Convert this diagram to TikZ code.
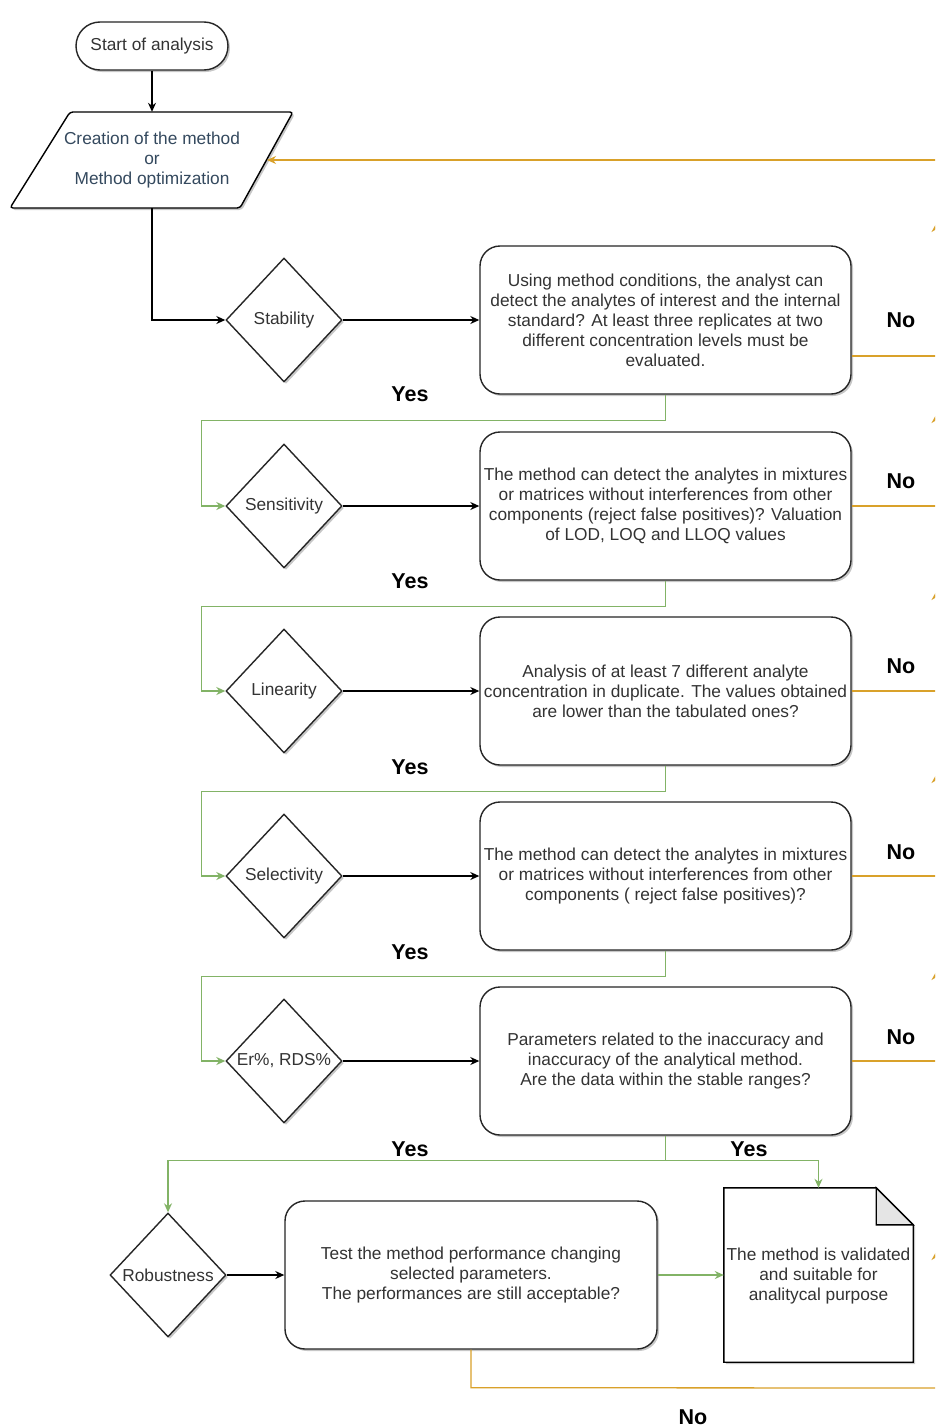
\documentclass[tikz,border=0pt]{standalone}
\usepackage{fontspec}
\setmainfont{Liberation Sans}
\usetikzlibrary{shapes.geometric,arrows.meta,calc,shadows,decorations.markings}
\definecolor{ora}{HTML}{D9A12A}
\definecolor{grn}{HTML}{82B366}
\definecolor{txt}{HTML}{333333}
\definecolor{btxt}{HTML}{34495E}
\begin{document}
\begin{tikzpicture}[x=1pt,y=-1pt,
  shad/.style={drop shadow={shadow xshift=2pt,shadow yshift=-2pt,opacity=0.22,fill=black}},
  fnt/.style={font=\fontsize{17.3}{20}\selectfont},
  base/.style={draw=black!85, line width=1.4pt, fill=white, text=txt, fnt, align=center, shad},
  proc/.style={base, rectangle, rounded corners=20pt, minimum width=371pt, minimum height=148pt, inner sep=1pt},
  dec/.style={base, diamond, minimum width=116pt, minimum height=124pt, inner sep=0pt},
  lab/.style={font=\fontsize{21.5}{24}\selectfont\bfseries, text=black},
  tip/.style={-{Stealth[length=9pt,width=8pt]}},
  blk/.style={draw=black, line width=1.3pt, tip},
  gr/.style={draw=grn, line width=1.3pt, tip},
  orl/.style={draw=ora, line width=1.3pt},
]
\clip (0,0) rectangle (935,1427);
\fill[white] (0,0) rectangle (935,1427);

% start
\node[base, rectangle, rounded corners=24pt, minimum width=152pt, minimum height=48pt] (start) at (152,46) {Start of analysis};

% parallelogram
\node[minimum width=230pt, minimum height=96pt, inner sep=0pt] (para) at (152,160) {};
\draw[line width=1.4pt, fill=white, rounded corners=3pt, shad]
  (70,112) -- (293,112) -- (240,208) -- (10,208) -- cycle;
\node[text=btxt, fnt, align=center] (paratxt) at (152,160)
  {Creation of the method\\or\\Method optimization};
\coordinate (paraR) at (267,160);

% decisions
\node[dec] (d1) at (284,320) {Stability};
\node[dec] (d2) at (284,506) {Sensitivity};
\node[dec] (d3) at (284,691) {Linearity};
\node[dec] (d4) at (284,876) {Selectivity};
\node[dec] (d5) at (284,1061) {Er\%, RDS\%};
\node[dec] (d6) at (168,1275) {Robustness};

% process boxes
\node[proc] (b1) at (665.5,320) {Using method conditions, the analyst can\\detect the analytes of interest and the internal\\standard? At least three replicates at two\\different concentration levels must be\\evaluated.};
\node[proc] (b2) at (665.5,506) {The method can detect the analytes in mixtures\\or matrices without interferences from other\\components (reject false positives)? Valuation\\of LOD, LOQ and LLOQ values};
\node[proc] (b3) at (665.5,691) {Analysis of at least 7 different analyte\\concentration in duplicate. The values obtained\\are lower than the tabulated ones?};
\node[proc] (b4) at (665.5,876) {The method can detect the analytes in mixtures\\or matrices without interferences from other\\components ( reject false positives)?};
\node[proc] (b5) at (665.5,1061) {Parameters related to the inaccuracy and\\inaccuracy of the analytical method.\\Are the data within the stable ranges?};
\node[proc, minimum width=372pt] (b6) at (471,1275) {Test the method performance changing\\selected parameters.\\The performances are still acceptable?};

% document
\node[minimum width=189pt, minimum height=174pt, inner sep=0pt] (doc) at (818.5,1275) {};
\draw[line width=1.4pt, fill=white, shad]
  (doc.north west) -- ([xshift=-37pt]doc.north east) -- ([yshift=-37pt]doc.north east)
  -- (doc.south east) -- (doc.south west) -- cycle;
\draw[line width=1.4pt, fill=black!10]
  ([xshift=-37pt]doc.north east) -- ([xshift=-37pt,yshift=-37pt]doc.north east) -- ([yshift=-37pt]doc.north east) -- cycle;
\node[text=txt, fnt, align=center] (doctxt) at (818.5,1276)
  {The method is validated\\and suitable for\\analitycal purpose};

% black connectors
\draw[blk] (start) -- (para.north);
\draw[blk] (para.south) |- (d1.west);
\foreach \i in {1,...,6} { \draw[blk] (d\i.east) -- (b\i.west); }

% green connectors
\foreach \i/\j in {1/2,2/3,3/4,4/5} {
  \draw[gr] (b\i.south) -- ++(0,26) -| ($(d\j.west)+(-24,0)$) -- (d\j.west);
}
\coordinate (g5) at ($(b5.south)+(0,25)$);
\draw[gr] (b5.south) -- (g5) -| (d6.north);
\draw[gr] (g5) -| (doc.north);
\draw[gr] (b6.east) -- (doc.west);

% orange return connectors
\coordinate (R0) at (937,160);
\coordinate (Rb) at (937,1388);
\draw[orl, postaction={decorate}, decoration={markings,
   mark=at position 138pt with {\arrow[ora]{Stealth[length=10pt,width=11pt]}},
   mark=at position 418pt with {\arrow[ora]{Stealth[length=10pt,width=11pt]}},
   mark=at position 615pt with {\arrow[ora]{Stealth[length=10pt,width=11pt]}},
   mark=at position 798pt with {\arrow[ora]{Stealth[length=10pt,width=11pt]}},
   mark=at position 975pt with {\arrow[ora]{Stealth[length=10pt,width=11pt]}},
   mark=at position 1166pt with {\arrow[ora]{Stealth[length=10pt,width=11pt]}}}]
  (Rb) -- (R0);
\draw[orl, tip] (R0) -- (paraR);
\draw[orl] ([yshift=-36pt]b1.east) -- (937,356);
\foreach \i in {2,...,5} { \draw[orl] (b\i.east) -- (b\i.east -| R0); }
\draw[orl] (b6.south) -- ++(0,38) -- (Rb);

% labels
\foreach \y in {394,581,767,952,1149} { \node[lab] at (410,\y) {Yes}; }
\node[lab] (yes6) at (749,1149) {Yes};
\foreach \y in {320,481,666,852,1037} { \node[lab] at (901,\y) {No}; }
\node[lab] (no6) at (693,1417) {No};
\end{tikzpicture}
\end{document}
